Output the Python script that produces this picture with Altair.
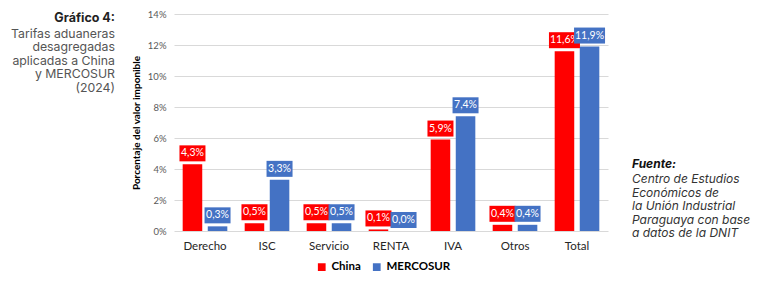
import altair as alt
import pandas as pd

categories = ["Derecho", "ISC", "Servicio", "RENTA", "IVA", "Otros", "Total"]
china = [4.3, 0.5, 0.5, 0.1, 5.9, 0.4, 11.6]
mercosur = [0.3, 3.3, 0.5, 0.0, 7.4, 0.4, 11.9]
series = ["China", "MERCOSUR"]
colors = ["#FF0000", "#4472C4"]
y_ticks = [0, 2, 4, 6, 8, 10, 12, 14]

left_title = "Gráfico 4:"
left_lines = ["Tarifas aduaneras", "desagregadas", "aplicadas a China", "y MERCOSUR", "(2024)"]
right_title = "Fuente:"
right_lines = ["Centro de Estudios", "Económicos de", "la Unión Industrial",
               "Paraguaya con base", "a datos de la DNIT"]

rows = []
for c, a, b in zip(categories, china, mercosur):
    rows.append({"cat": c, "serie": "China", "v": a})
    rows.append({"cat": c, "serie": "MERCOSUR", "v": b})
df = pd.DataFrame(rows)
df["label"] = df["v"].map(lambda v: f"{v:.1f}".replace(".", ",") + "%")

FONT = "Lato"
TFONT = "Inter"

x = alt.X("cat:N", sort=categories,
          scale=alt.Scale(paddingInner=0.28, paddingOuter=0.14),
          axis=alt.Axis(title=None, labelAngle=0, labelFontSize=11.5, labelColor="#262626",
                        labelFont=FONT, ticks=False, domain=False, labelPadding=9))
xo = alt.XOffset("serie:N", sort=series, scale=alt.Scale(paddingInner=0.22, paddingOuter=0))
y = alt.Y("v:Q", scale=alt.Scale(domain=[0, 14], nice=False),
          axis=alt.Axis(values=y_ticks, labelExpr="datum.value + '%'",
                        title="Porcentaje del valor imponible", titleFont=FONT,
                        titleFontSize=10, titleFontWeight="bold", titleColor="#000000",
                        labelFont=FONT, labelFontSize=9.5, labelColor="#595959",
                        ticks=False, domain=False, gridColor="#D9D9D9",
                        labelPadding=8, titlePadding=6))
color = alt.Color("serie:N", sort=series, scale=alt.Scale(domain=series, range=colors),
                  legend=alt.Legend(title=None, orient="none", legendX=142, legendY=247,
                                    direction="horizontal", symbolType="square",
                                    labelFont=FONT, labelFontWeight="bold", labelFontSize=11.5,
                                    labelColor="#000000", symbolSize=60, columnPadding=10,
                                    symbolStrokeWidth=0))

base = alt.Chart(df)
bars = base.mark_bar().encode(x=x, xOffset=xo, y=y, color=color)

narrow = "M-1.3,-0.8H1.3V0.8H-1.3Z"
wide = "M-1.55,-0.8H1.55V0.8H-1.55Z"

layers = [bars]
for s, col in zip(series, colors):
    sub = base.transform_filter(alt.datum.serie == s)
    box = sub.mark_point(filled=True, opacity=1, yOffset=-11, strokeWidth=0, size=400).encode(
        x=x, xOffset=xo, y=y,
        fill=alt.value(col),
        shape=alt.condition("length(datum.label) > 4", alt.value(wide), alt.value(narrow)),
    )
    txt = sub.mark_text(yOffset=-11, baseline="middle", align="center", color="white",
                        font=FONT, fontSize=10.5).encode(
        x=x, xOffset=xo, y=y, text="label:N")
    layers += [box, txt]

one = pd.DataFrame({"k": [0]})
ann = alt.Chart(one)
layers.append(ann.mark_text(align="right", baseline="middle", font=TFONT, fontSize=12.5,
                            fontWeight="bold", color="#222222").encode(
    x=alt.value(-59), y=alt.value(4), text=alt.value(left_title)))
layers.append(ann.mark_text(align="right", baseline="middle", font=TFONT, fontSize=12.3,
                            color="#555555", lineHeight=13.5).encode(
    x=alt.value(-59), y=alt.value(19.5), text=alt.value(left_lines)))
layers.append(ann.mark_text(align="left", baseline="middle", font=TFONT, fontSize=12,
                            fontWeight="bold", fontStyle="italic", color="#111111").encode(
    x=alt.value(458), y=alt.value(150), text=alt.value(right_title)))
layers.append(ann.mark_text(align="left", baseline="middle", font=TFONT, fontSize=12,
                            fontStyle="italic", color="#333333", lineHeight=13.5).encode(
    x=alt.value(458), y=alt.value(165), text=alt.value(right_lines)))

chart = alt.layer(*layers).properties(
    width=434, height=217,
    padding={"left": 174, "top": 14, "right": 162, "bottom": 52},
    autosize=alt.AutoSizeParams(type="none"),
    background="white",
).configure_view(stroke=None)

chart.save("out.html", embed_options={"renderer": "svg", "actions": False})
